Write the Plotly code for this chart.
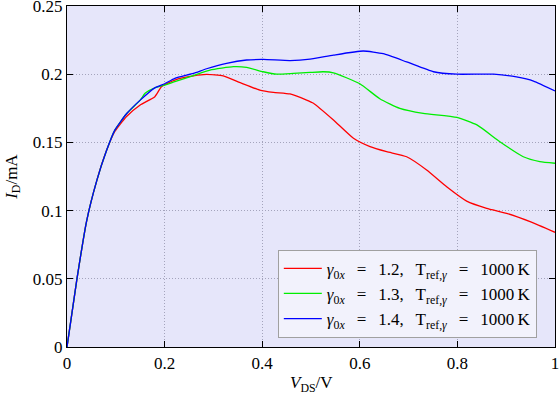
import plotly.graph_objects as go

# Data
x_red = [0, 0.02, 0.04, 0.061, 0.081, 0.098, 0.122, 0.15, 0.18, 0.194, 0.221, 0.259, 0.286, 0.32, 0.355,
         0.395, 0.423, 0.457, 0.491, 0.505, 0.546, 0.587, 0.621, 0.655, 0.696, 0.737, 0.778, 0.819,
         0.86, 0.901, 0.949, 1.0]
y_red = [0, 0.049, 0.092, 0.122, 0.144, 0.158, 0.169, 0.1774, 0.1835, 0.191, 0.1957, 0.1987, 0.1998, 0.1987,
         0.1938, 0.1884, 0.1867, 0.1855, 0.181, 0.1787, 0.1664, 0.153, 0.1469, 0.1432, 0.1395, 0.1298,
         0.1175, 0.107, 0.1017, 0.098, 0.0919, 0.0841]

x_green = [0, 0.02, 0.04, 0.061, 0.081, 0.098, 0.122, 0.15, 0.16, 0.18, 0.2, 0.221, 0.259, 0.293, 0.341,
           0.368, 0.402, 0.43, 0.464, 0.498, 0.525, 0.546, 0.6, 0.641, 0.682, 0.73, 0.799, 0.84, 0.887,
           0.935, 0.969, 1.0]
y_green = [0, 0.049, 0.092, 0.122, 0.144, 0.159, 0.171, 0.181, 0.186, 0.190, 0.192, 0.1945, 0.199, 0.203,
           0.2055, 0.205, 0.2018, 0.200, 0.2006, 0.2013, 0.2018, 0.201, 0.193, 0.182, 0.175, 0.1713,
           0.1683, 0.1628, 0.1505, 0.1395, 0.1359, 0.1347]

x_blue = [0, 0.02, 0.04, 0.061, 0.081, 0.098, 0.122, 0.15, 0.18, 0.2, 0.221, 0.259, 0.286, 0.327, 0.368,
          0.402, 0.457, 0.498, 0.546, 0.607, 0.648, 0.696, 0.751, 0.799, 0.874, 0.921, 0.956, 1.0]
y_blue = [0, 0.049, 0.092, 0.122, 0.144, 0.159, 0.171, 0.181, 0.190, 0.193, 0.197, 0.2006, 0.204, 0.208,
          0.2104, 0.2108, 0.210, 0.211, 0.214, 0.217, 0.215, 0.209, 0.2018, 0.200, 0.200, 0.198, 0.195,
          0.1877]

SP = "\u2002\u2009"
names = [
    f"<i>γ</i><sub>0<i>x</i></sub>{SP}={SP}1.2,{SP}T<sub>ref,<i>γ</i></sub>{SP}={SP}1000\u2009K",
    f"<i>γ</i><sub>0<i>x</i></sub>{SP}={SP}1.3,{SP}T<sub>ref,<i>γ</i></sub>{SP}={SP}1000\u2009K",
    f"<i>γ</i><sub>0<i>x</i></sub>{SP}={SP}1.4,{SP}T<sub>ref,<i>γ</i></sub>{SP}={SP}1000\u2009K",
]
colors = ["#ff0000", "#00ee00", "#0000ff"]
x_ticks = [0, 0.2, 0.4, 0.6, 0.8, 1]
x_ticklabels = ["0", "0.2", "0.4", "0.6", "0.8", "1"]
y_ticks = [0, 0.05, 0.1, 0.15, 0.2, 0.25]
y_ticklabels = ["0", "0.05", "0.1", "0.15", "0.2", "0.25"]

FONT = "Liberation Serif"

fig = go.Figure()
for xs, ys, nm, col in [(x_red, y_red, names[0], colors[0]),
                        (x_green, y_green, names[1], colors[1]),
                        (x_blue, y_blue, names[2], colors[2])]:
    fig.add_trace(go.Scatter(x=xs, y=ys, mode="lines", name=nm, hoverinfo="skip",
                             line=dict(color=col, width=1.3, shape="spline", smoothing=0.5)))

axis_common = dict(showline=True, linecolor="black", linewidth=1.2, mirror="ticks",
                   ticks="inside", ticklen=6, tickcolor="black", tickwidth=1,
                   showgrid=True, gridcolor="#a4a4bc", griddash="1px,2px", gridwidth=1,
                   zeroline=False, automargin=False, ticklabeloverflow="allow",
                   tickfont=dict(family=FONT, size=17, color="black"))

fig.update_layout(
    width=559, height=397,
    margin=dict(l=67, r=4, t=6, b=50),
    paper_bgcolor="white",
    plot_bgcolor="#e6e6fa",
    hovermode=False,
    font=dict(family=FONT, size=17, color="black"),
    xaxis=dict(range=[0, 1.00001], tickvals=x_ticks, ticktext=x_ticklabels, **axis_common),
    yaxis=dict(range=[0, 0.250001], tickvals=y_ticks, ticktext=y_ticklabels, **axis_common),
    legend=dict(x=0.432, y=0.285, xanchor="left", yanchor="top",
                bgcolor="#f2f2fc", bordercolor="#a0a0a0", borderwidth=1,
                font=dict(family=FONT, size=17, color="black"),
                tracegroupgap=0, itemwidth=38),
    showlegend=True,
    annotations=[
        dict(text="<i>V</i><sub>DS</sub>/V", xref="paper", yref="paper", x=0.5, y=-0.108,
             xanchor="center", yanchor="middle", showarrow=False, font=dict(family=FONT, size=17)),
        dict(text="<i>I</i><sub>D</sub>/mA", xref="paper", yref="paper", x=-0.112, y=0.5,
             xanchor="center", yanchor="middle", textangle=-90, showarrow=False,
             font=dict(family=FONT, size=17)),
    ],
)

fig.write_html("out.html", config={"displayModeBar": False, "staticPlot": True},
               post_script="document.body.style.margin='0';")
